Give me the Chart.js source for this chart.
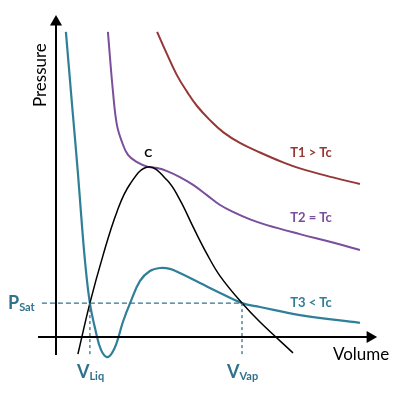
<!DOCTYPE html>
<html>
<head>
<meta charset="utf-8">
<script src="https://cdn.jsdelivr.net/npm/chart.js@4/dist/chart.umd.min.js"></script>
<style>
  body { margin: 0; background: #fff; }
  #wrap { width: 400px; height: 395px; }
</style>
</head>
<body>
<div id="wrap"><canvas id="pv-chart"></canvas></div>
<script>
// isotherms (volume, pressure in arbitrary units)
const t1Volume = [3.37, 3.70, 4.03, 4.37, 4.70, 5.13, 5.57, 6.13, 6.80, 7.57, 8.13, 9.23, 10.13];
const t1Pressure = [10.17, 9.43, 8.73, 8.17, 7.70, 7.23, 6.83, 6.47, 6.15, 5.82, 5.62, 5.32, 5.10];

const t2Volume = [1.73, 1.90, 2.03, 2.20, 2.40, 2.70, 3.07, 3.37, 3.70, 4.13, 4.57, 5.03, 5.47, 5.90, 6.47, 7.03, 8.13, 9.23, 10.13];
const t2Pressure = [10.17, 8.17, 7.07, 6.50, 6.07, 5.83, 5.67, 5.63, 5.53, 5.33, 5.07, 4.73, 4.40, 4.17, 3.92, 3.73, 3.43, 3.15, 2.90];

const t3Volume = [0.33, 0.53, 0.73, 0.83, 0.97, 1.13, 1.33, 1.50, 1.70, 1.87, 2.03, 2.23, 2.47, 2.80, 3.13, 3.47, 3.80, 4.13, 4.80, 5.47, 6.20, 6.80, 8.13, 10.13];
const t3Pressure = [10.17, 7.80, 5.47, 4.17, 2.50, 1.13, 0.17, -0.43, -0.67, -0.53, -0.17, 0.50, 1.13, 1.87, 2.20, 2.30, 2.27, 2.13, 1.80, 1.47, 1.13, 1.00, 0.73, 0.47];

// saturation dome
const domeVolume = [0.73, 1.13, 1.57, 2.03, 2.47, 3.07, 3.70, 4.13, 4.57, 5.03, 5.47, 6.20, 6.80, 7.90];
const domePressure = [-0.57, 1.13, 2.73, 4.17, 5.10, 5.67, 5.23, 4.57, 3.67, 2.77, 2.03, 1.13, 0.50, -0.53];

const pSat = 1.13;
const vLiq = 1.13;
const vVap = 6.20;
const criticalPoint = { v: 3.07, p: 5.67 };

const curveLabels = ['T1 > Tc', 'T2 = Tc', 'T3 < Tc'];

const red = '#953735';
const purple = '#7A4E9C';
const teal = '#2F7F99';
const tealText = '#30728C';

function pts(xs, ys) {
    return xs.map((x, i) => ({ x: x, y: ys[i] }));
}

function curve(xs, ys, color, width) {
    return {
        type: 'line',
        data: pts(xs, ys),
        borderColor: color,
        borderWidth: width,
        pointRadius: 0,
        tension: 0.4,
        clip: false
    };
}

function straight(data, color, width, dash) {
    return {
        type: 'line',
        data: data,
        borderColor: color,
        borderWidth: width,
        borderDash: dash || [],
        pointRadius: 0,
        tension: 0,
        clip: false
    };
}

// text labels placed in data units
const textPlugin = {
    id: 'textLabels',
    afterDatasetsDraw(chart) {
        const c = chart.ctx;
        const sx = chart.scales.x;
        const sy = chart.scales.y;
        const px = v => sx.getPixelForValue(v);
        const py = v => sy.getPixelForValue(v);
        c.save();
        c.textBaseline = 'middle';

        // axis titles
        c.fillStyle = '#000';
        c.font = '17px Lato';
        c.textAlign = 'center';
        c.fillText('Volume', px(10.17), py(-0.6));
        c.save();
        c.translate(px(-0.53), py(8.73));
        c.rotate(-Math.PI / 2);
        c.fillText('Pressure', 0, 0);
        c.restore();

        // critical point
        c.font = 'bold 12px Lato';
        c.fillText('C', px(criticalPoint.v), py(criticalPoint.p + 0.47));

        // isotherm names
        c.font = 'bold 13px Lato';
        c.fillStyle = red;
        c.fillText(curveLabels[0], px(8.5), py(6.13));
        c.fillStyle = purple;
        c.fillText(curveLabels[1], px(8.5), py(3.97));
        c.fillStyle = teal;
        c.fillText(curveLabels[2], px(8.5), py(1.13));

        // subscripted labels
        c.fillStyle = tealText;
        c.textAlign = 'left';
        function sub(main, small, x, y) {
            c.font = 'bold 18px Lato';
            c.fillText(main, x, y);
            const w = c.measureText(main).width;
            c.font = 'bold 11px Lato';
            c.fillText(small, x + w, y + 4);
        }
        sub('P', 'Sat', px(-1.6), py(pSat));
        sub('V', 'Liq', px(vLiq) - 13, py(-1.17));
        sub('V', 'Vap', px(vVap) - 15, py(-1.17));
        c.restore();
    }
};

const chart = new Chart(document.getElementById('pv-chart'), {
    type: 'scatter',
    data: {
        datasets: [
            straight([{ x: 0, y: -0.6 }, { x: 0, y: 10.5 }], '#000', 2),
            straight([{ x: -0.6, y: 0 }, { x: 10.47, y: 0 }], '#000', 2),
            {
                type: 'scatter',
                data: [{ x: 0, y: 10.5 }],
                pointStyle: 'triangle',
                pointRadius: 7,
                backgroundColor: '#000',
                borderColor: '#000',
                borderWidth: 0,
                clip: false
            },
            {
                type: 'scatter',
                data: [{ x: 10.47, y: 0 }],
                pointStyle: 'triangle',
                pointRotation: 90,
                pointRadius: 7,
                backgroundColor: '#000',
                borderColor: '#000',
                borderWidth: 0,
                clip: false
            },
            straight([{ x: -0.47, y: pSat }, { x: vVap, y: pSat }], tealText, 1.3, [5, 3]),
            straight([{ x: vLiq, y: pSat }, { x: vLiq, y: -0.67 }], tealText, 1.3, [3, 3]),
            straight([{ x: vVap, y: pSat }, { x: vVap, y: -0.6 }], tealText, 1.3, [3, 3]),
            curve(domeVolume, domePressure, '#000', 1.5),
            curve(t1Volume, t1Pressure, red, 2),
            curve(t2Volume, t2Pressure, purple, 2),
            curve(t3Volume, t3Pressure, teal, 2.2)
        ]
    },
    options: {
        responsive: true,
        maintainAspectRatio: false,
        animation: false,
        events: [],
        layout: { padding: { left: 26, right: 14, top: 7, bottom: 28 } },
        scales: {
            x: { type: 'linear', min: -1, max: 11, display: false },
            y: { type: 'linear', min: -1, max: 11, display: false }
        },
        plugins: {
            legend: { display: false },
            tooltip: { enabled: false }
        }
    },
    plugins: [textPlugin]
});
</script>
</body>
</html>
